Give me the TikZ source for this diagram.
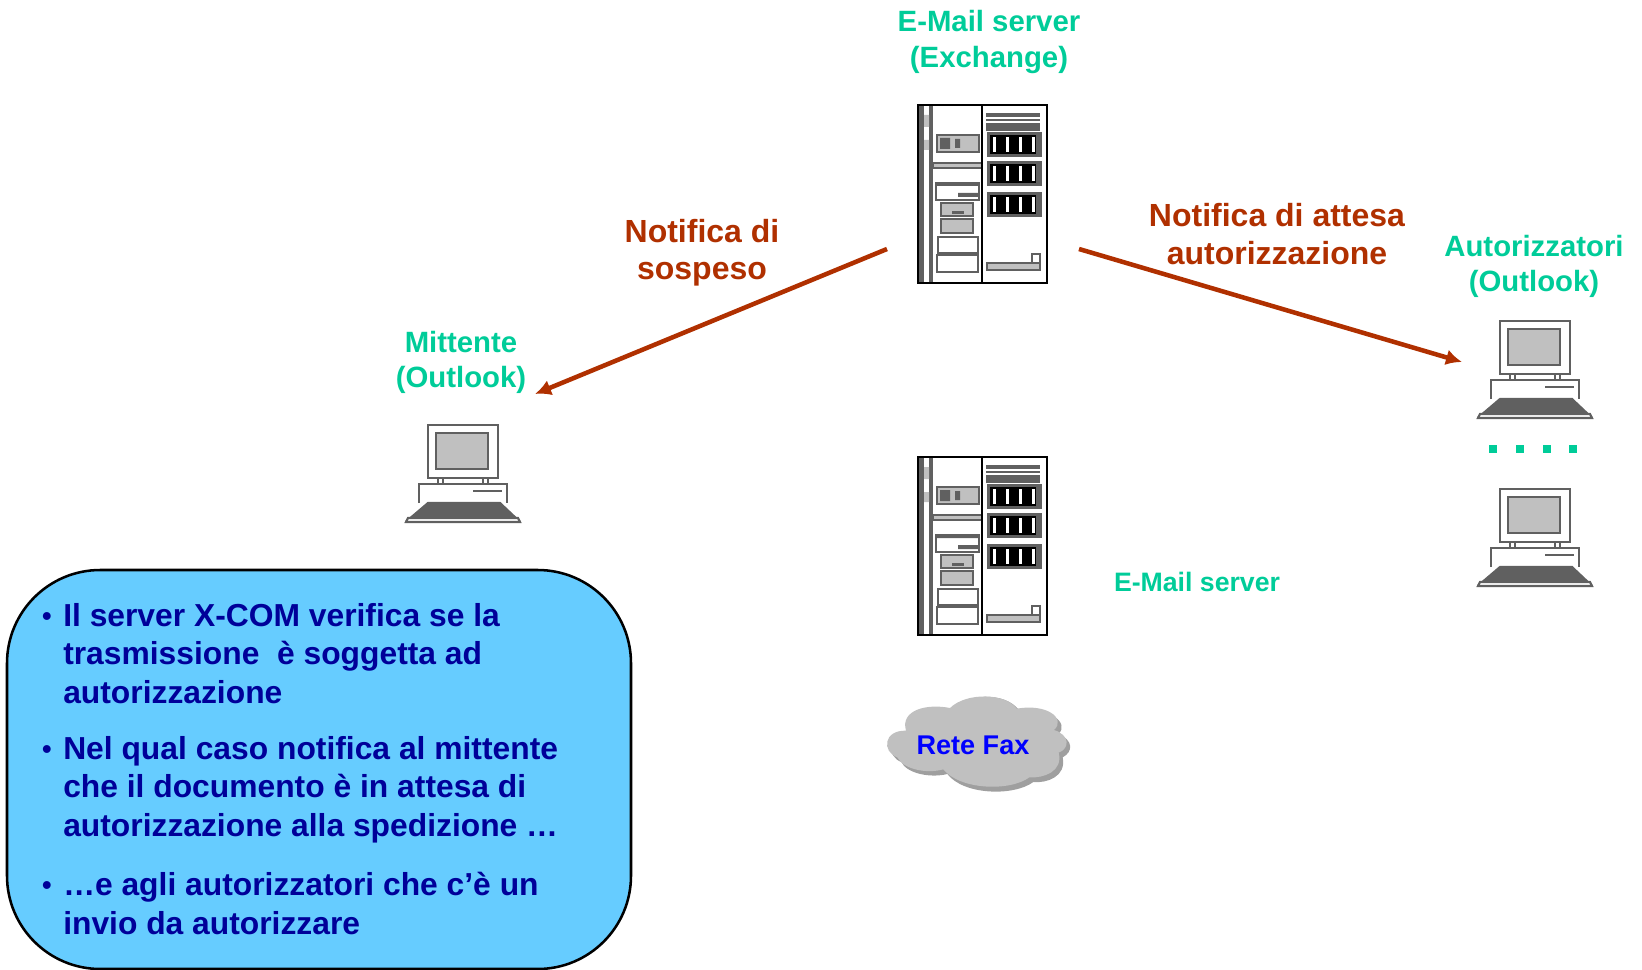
\documentclass[tikz,border=0pt]{standalone}
\usepackage{fontspec}
\usetikzlibrary{arrows.meta}
\setmainfont{Liberation Sans}
\definecolor{labelgreen}{RGB}{0,204,153}
\definecolor{arrowred}{RGB}{176,48,0}
\definecolor{boxblue}{RGB}{102,204,255}
\definecolor{textblue}{RGB}{0,0,153}
\definecolor{partgrey}{RGB}{96,96,96}
\definecolor{lightpart}{RGB}{192,192,192}
\tikzset{
  greenlabel/.style={text=labelgreen,font=\fontsize{22}{26.3}\selectfont\bfseries,align=center},
  redlabel/.style={text=arrowred,font=\fontsize{24}{28}\selectfont\bfseries,align=center},
  bullettext/.style={text=textblue,font=\fontsize{23.85}{29}\selectfont\bfseries,align=left,anchor=north west,inner sep=0pt},
  bulletdot/.style={text=textblue,font=\fontsize{20.5}{24}\selectfont\bfseries},
  notifyarrow/.style={draw=arrowred,line width=3.4pt,-{Latex[length=12pt,width=12pt]}},
  part/.style={draw=partgrey,line width=1.6pt},
  server/.pic={
    %Left strip
    \fill[partgrey] (1,0) rectangle (15,178);
    \fill[white] (6,0) rectangle (11,178);
    \fill[lightpart] (6,10) rectangle (11,22) (6,35) rectangle (11,45);
    %Badge and band
    \draw[part,fill=lightpart] (19,30) rectangle (61,47);
    \fill[partgrey] (22,33) rectangle (32,44) (37,34) rectangle (42,43);
    \draw[part,fill=lightpart] (15,58) rectangle (64,63);
    %Drive bays
    \draw[part] (18,78) rectangle (61,95);
    \fill[partgrey] (18,78) rectangle (61,81) (40,88) rectangle (61,92);
    \draw[part,fill=lightpart] (23,98) rectangle (55,111);
    \fill[partgrey] (34,106) rectangle (46,109);
    \draw[part,fill=lightpart] (23,114) rectangle (55,128);
    \draw[part] (20,132) rectangle (60,148);
    \draw[part] (19,150) rectangle (60,167);
    %Right top band
    \fill[partgrey] (68,8) rectangle (122,26);
    \draw[white,line width=0.8pt] (68,13) -- (122,13) (68,17) -- (122,17);
    %Racks
    \foreach \racky in {27,56,87}{
      \fill[partgrey] (69,\racky) rectangle (124,\racky+25);
      \fill[black] (72,\racky+3) rectangle (118,\racky+22);
      \foreach \slotx in {75,88,101,114}
        \fill[white] (\slotx,\racky+5) rectangle (\slotx+2.5,\racky+20);
    }
    %Handle
    \draw[part,fill=lightpart] (69,158) rectangle (122,165);
    \draw[part] (114,149) rectangle (122,158);
    %Outline
    \draw[line width=2.2pt] (0,0) rectangle (129,178);
    \draw[line width=2.2pt] (64,0) -- (64,178);
  },
  pc/.pic={
    \draw[part] (22,0) rectangle (92,53);
    \draw[part,fill=lightpart,line width=2pt] (30,8) rectangle (82,44);
    \draw[part] (32,53) -- (32,59) (82,53) -- (82,59) (37,53) -- (37,59) (77,53) -- (77,59);
    \draw[part] (13,78) -- (13,59) -- (101,59) -- (101,78);
    \draw[part,line width=1.8pt] (67,66) -- (96,66);
    \draw[part,fill=partgrey] (22,78) -- (94,78) -- (112,95) -- (2,95) -- cycle;
    \draw[part,fill=white] (0,97) -- (114,97) -- (112,93) -- (2,93) -- cycle;
  }
}
\begin{document}
\begin{tikzpicture}[x=0.75pt,y=0.75pt,yscale=-1,xscale=1]
  \useasboundingbox (0,0) rectangle (1642,970);

  %Servers
  \pic[yscale=-1] at (918,105) {server};
  \pic[yscale=-1] at (918,457) {server};

  %Computers
  \pic[yscale=-1] at (406,425) {pc};
  \pic[yscale=-1] at (1478,321) {pc};
  \pic[yscale=-1] at (1478,489) {pc};

  %Dots between the computers
  \foreach \dotx [count=\doti] in {1493,1520,1547,1573}
    \node[fill=labelgreen,minimum size=5.4pt,inner sep=0pt] (dot\doti) at (\dotx,449) {};

  %Cloud
  \begin{scope}[shift={(870,680)},x=0.25pt,y=0.25pt]
    \fill[gray!75] (120,164) .. controls (100,100) and (180,75) .. (252,98) .. controls (300,30) and (420,40) .. (452,98) .. controls (540,80) and (600,130) .. (565,162) .. controls (610,180) and (610,215) .. (578,232) .. controls (590,290) and (530,310) .. (490,306) .. controls (430,350) and (280,345) .. (232,282) .. controls (180,295) and (110,280) .. (94,246) .. controls (50,230) and (50,165) .. (120,164) -- cycle;
    \fill[lightpart] (108,152) .. controls (90,90) and (170,70) .. (240,84) .. controls (290,35) and (410,40) .. (440,86) .. controls (530,70) and (590,115) .. (552,150) .. controls (600,165) and (600,205) .. (566,218) .. controls (580,275) and (520,295) .. (478,292) .. controls (420,335) and (270,330) .. (220,268) .. controls (170,282) and (100,268) .. (82,232) .. controls (35,215) and (40,150) .. (108,152) -- cycle;
  \end{scope}
  \node[text=blue,font=\fontsize{20.3}{23}\selectfont\bfseries] (retefax) at (973,745) {Rete Fax};

  %Labels
  \node[greenlabel] (mailserver) at (989,42) {E-Mail server\\(Exchange)};
  \node[greenlabel] (mittente) at (461,362) {Mittente\\(Outlook)};
  \node[greenlabel] (autorizzatori) at (1534,266) {Autorizzatori\\(Outlook)};
  \node[greenlabel,font=\fontsize{20}{23}\selectfont\bfseries] (mailserverb) at (1197,582) {E-Mail server};
  \node[redlabel] (sospeso) at (702,253) {Notifica di\\sospeso};
  \node[redlabel] (attesa) at (1277,234) {Notifica di attesa\\autorizzazione};

  %Arrows
  \coordinate (srvleft) at (887,249);
  \coordinate (srvright) at (1079,249);
  \coordinate (mittenteend) at (535,394);
  \coordinate (autorend) at (1462,362);
  \draw[notifyarrow] (srvleft) -- (mittenteend);
  \draw[notifyarrow] (srvright) -- (autorend);

  %Rounded box
  \draw[fill=boxblue,line width=1.9pt,rounded corners=70pt] (7,570) rectangle (631,969);

  %Bullets
  \node[bulletdot] (bulleta) at (47,619) {•};
  \node[bulletdot] (bulletb) at (47,752) {•};
  \node[bulletdot] (bulletc) at (47,888) {•};
  \node[bullettext] (texta) at (63,603) {Il server X-COM verifica se la\\trasmissione\ \ è soggetta ad\\autorizzazione};
  \node[bullettext] (textb) at (63,736) {Nel qual caso notifica al mittente\\che il documento è in attesa di\\autorizzazione alla spedizione …};
  \node[bullettext] (textc) at (63,872) {…e agli autorizzatori che c’è un\\invio da autorizzare};
\end{tikzpicture}
\end{document}
